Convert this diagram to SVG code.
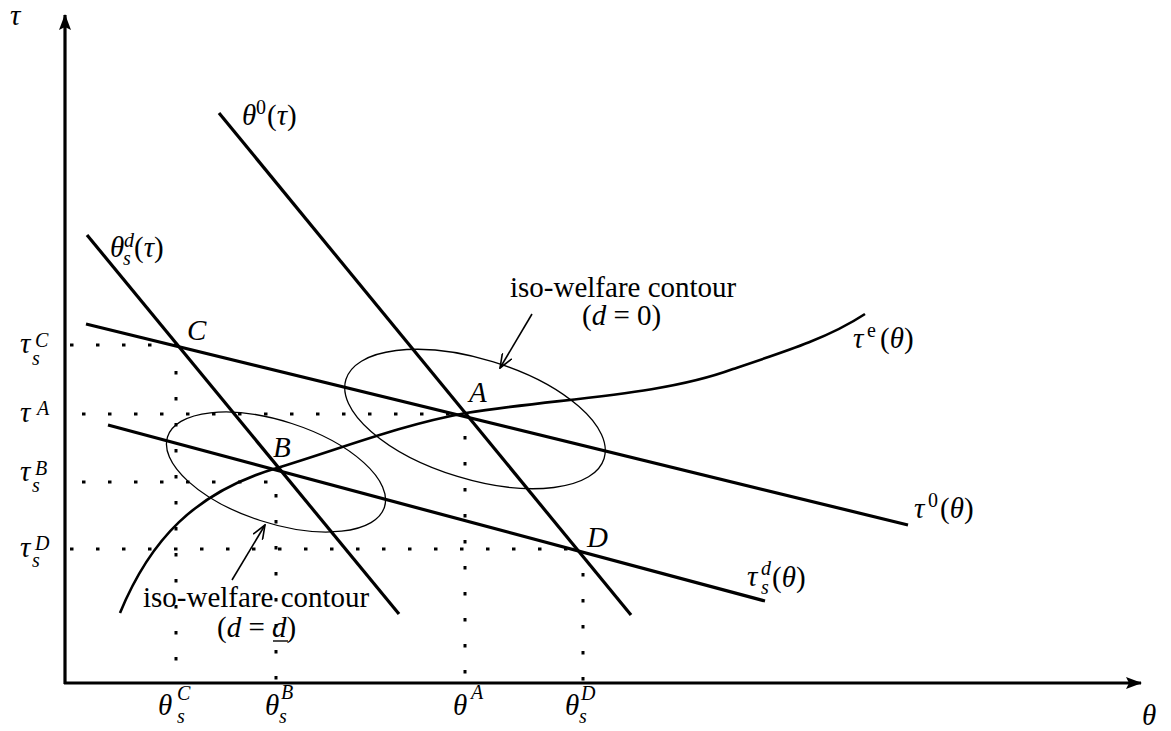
<svg xmlns="http://www.w3.org/2000/svg" width="1171" height="731" viewBox="0 0 1171 731">
<style>
.thick{stroke:#000;stroke-width:3.2;fill:none}
.thin{stroke:#000;stroke-width:1.3;fill:none}
.dot{stroke:#000;stroke-width:3;fill:none;stroke-dasharray:3.5 22.5}
text{font-family:"Liberation Serif",serif;font-size:29px;fill:#000}
.i{font-style:italic}
.s{font-size:20px}
</style>
<defs>
<marker id="ah" markerWidth="16" markerHeight="12" refX="15" refY="6" orient="auto" markerUnits="userSpaceOnUse">
<path d="M0,0 L16,6 L0,12 L3,6 Z" fill="#000"/>
</marker>
<marker id="oa" markerWidth="16" markerHeight="12" refX="15" refY="6" orient="auto" markerUnits="userSpaceOnUse">
<path d="M1,0.5 L15,6 L1,11.5" fill="none" stroke="#000" stroke-width="1.6"/>
</marker>
</defs>
<rect width="1171" height="731" fill="#fff"/>
<g id="axes">
<line class="thick" x1="65" y1="684" x2="65" y2="15" marker-end="url(#ah)"/>
<line class="thick" x1="64" y1="683" x2="1141" y2="683" marker-end="url(#ah)"/>
<text class="i" x="10" y="25">τ</text>
<text class="i" x="1142" y="725">θ</text>
</g>
<g id="guides">
<line class="dot" x1="70" y1="345" x2="177" y2="345"/>
<line class="dot" x1="82" y1="414" x2="466" y2="414"/>
<line class="dot" x1="82" y1="482" x2="276" y2="482"/>
<line class="dot" x1="70" y1="549" x2="583" y2="549"/>
<line class="dot" x1="176" y1="371" x2="176" y2="683"/>
<line class="dot" x1="276" y1="494" x2="276" y2="683"/>
<line class="dot" x1="465" y1="436" x2="465" y2="683"/>
<line class="dot" x1="583" y1="573" x2="583" y2="683"/>
</g>
<g id="connectors">
<line class="thick" x1="219" y1="113" x2="631" y2="615"/>
<line class="thick" x1="87" y1="235" x2="399" y2="614"/>
<line class="thick" x1="86" y1="324" x2="908" y2="525"/>
<line class="thick" x1="108" y1="425" x2="765" y2="601"/>
<path class="thick" style="stroke-width:2.6" d="M120,613 C150,540 195,492 277,468 C340,449 400,425 466,413 C560,398 660,396 733,369 C790,350 830,337 865,314"/>
<line class="thin" style="stroke-width:1.6" x1="532" y1="314" x2="500" y2="368" marker-end="url(#oa)"/>
<line class="thin" style="stroke-width:1.6" x1="232" y1="580" x2="265" y2="525" marker-end="url(#oa)"/>
</g>
<g id="ellipse-A">
<ellipse class="thin" cx="475" cy="419" rx="135" ry="60" transform="rotate(17 475 419)"/>
</g>
<g id="ellipse-B">
<ellipse class="thin" cx="276" cy="472" rx="114" ry="51" transform="rotate(18 276 472)"/>
</g>
<g id="label-theta0">
<text class="i" x="242" y="125">θ</text>
<text class="s" x="256" y="114">0</text>
<text x="267" y="125">(<tspan class="i">τ</tspan>)</text>
</g>
<g id="label-thetasd">
<text class="i" x="110" y="257">θ</text>
<text class="i s" x="124" y="247">d</text>
<text class="i s" x="123" y="265">s</text>
<text x="134" y="257">(<tspan class="i">τ</tspan>)</text>
</g>
<g id="label-taue">
<text class="i" x="853" y="348">τ</text>
<text class="s" x="867" y="337">e</text>
<text x="880" y="348">(<tspan class="i">θ</tspan>)</text>
</g>
<g id="label-tau0">
<text class="i" x="914" y="518">τ</text>
<text class="s" x="928" y="507">0</text>
<text x="940" y="518">(<tspan class="i">θ</tspan>)</text>
</g>
<g id="label-tausd">
<text class="i" x="747" y="586">τ</text>
<text class="i s" x="761" y="575">d</text>
<text class="i s" x="761" y="594">s</text>
<text x="772" y="587">(<tspan class="i">θ</tspan>)</text>
</g>
<g id="point-C"><text class="i" x="187" y="340">C</text></g>
<g id="point-A"><text class="i" x="469" y="402">A</text></g>
<g id="point-B"><text class="i" x="273" y="457">B</text></g>
<g id="point-D"><text class="i" x="587" y="547">D</text></g>
<g id="contour-d0">
<text x="510" y="297">iso-welfare contour</text>
<text x="582" y="325">(<tspan class="i">d</tspan> = 0)</text>
</g>
<g id="contour-dd">
<text x="143" y="607">iso-welfare contour</text>
<text x="217" y="637">(<tspan class="i">d</tspan> = <tspan class="i">d</tspan>)</text>
<line stroke="#000" stroke-width="1.4" x1="273" y1="641" x2="288" y2="641"/>
</g>
<g id="labels-y">
<text class="i" x="20" y="353">τ</text><text class="i s" x="35" y="347">C</text><text class="i s" x="32" y="365">s</text>
<text class="i" x="20" y="422">τ</text><text class="i s" x="37" y="415">A</text>
<text class="i" x="20" y="481">τ</text><text class="i s" x="35" y="475">B</text><text class="i s" x="32" y="492">s</text>
<text class="i" x="20" y="557">τ</text><text class="i s" x="35" y="550">D</text><text class="i s" x="32" y="567">s</text>
</g>
<g id="labels-x">
<text class="i" x="158" y="715">θ</text><text class="i s" x="177" y="700">C</text><text class="i s" x="177" y="723">s</text>
<text class="i" x="265" y="715">θ</text><text class="i s" x="281" y="699">B</text><text class="i s" x="279" y="723">s</text>
<text class="i" x="453" y="715">θ</text><text class="i s" x="471" y="699">A</text>
<text class="i" x="565" y="715">θ</text><text class="i s" x="581" y="700">D</text><text class="i s" x="579" y="723">s</text>
</g>
</svg>
